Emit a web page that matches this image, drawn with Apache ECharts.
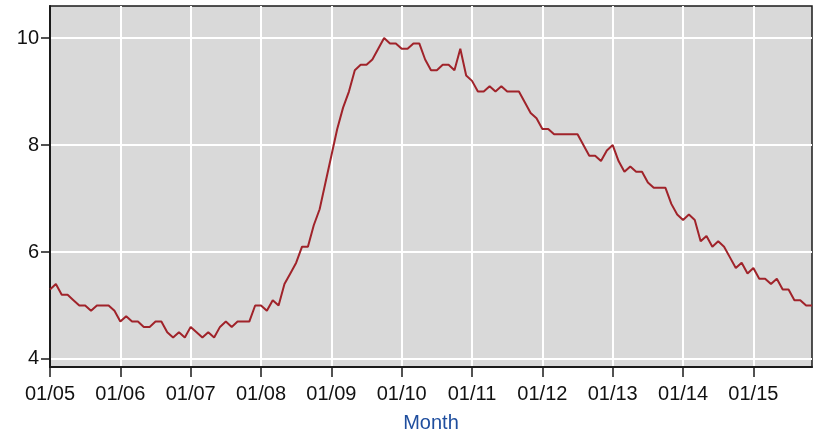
<!DOCTYPE html>
<html>
<head>
<meta charset="utf-8">
<script src="https://cdn.jsdelivr.net/npm/echarts@6/dist/echarts.min.js"></script>
<style>
html, body { margin: 0; padding: 0; background: #fff; }
#chart { width: 825px; height: 431px; }
</style>
</head>
<body>
<div id="chart"></div>
<script>
// monthly unemployment rate
const years = [2005, 2006, 2007, 2008, 2009, 2010, 2011, 2012, 2013, 2014, 2015]
const u2005 = [5.3, 5.4, 5.2, 5.2, 5.1, 5.0, 5.0, 4.9, 5.0, 5.0, 5.0, 4.9]
const u2006 = [4.7, 4.8, 4.7, 4.7, 4.6, 4.6, 4.7, 4.7, 4.5, 4.4, 4.5, 4.4]
const u2007 = [4.6, 4.5, 4.4, 4.5, 4.4, 4.6, 4.7, 4.6, 4.7, 4.7, 4.7, 5.0]
const u2008 = [5.0, 4.9, 5.1, 5.0, 5.4, 5.6, 5.8, 6.1, 6.1, 6.5, 6.8, 7.3]
const u2009 = [7.8, 8.3, 8.7, 9.0, 9.4, 9.5, 9.5, 9.6, 9.8, 10.0, 9.9, 9.9]
const u2010 = [9.8, 9.8, 9.9, 9.9, 9.6, 9.4, 9.4, 9.5, 9.5, 9.4, 9.8, 9.3]
const u2011 = [9.2, 9.0, 9.0, 9.1, 9.0, 9.1, 9.0, 9.0, 9.0, 8.8, 8.6, 8.5]
const u2012 = [8.3, 8.3, 8.2, 8.2, 8.2, 8.2, 8.2, 8.0, 7.8, 7.8, 7.7, 7.9]
const u2013 = [8.0, 7.7, 7.5, 7.6, 7.5, 7.5, 7.3, 7.2, 7.2, 7.2, 6.9, 6.7]
const u2014 = [6.6, 6.7, 6.6, 6.2, 6.3, 6.1, 6.2, 6.1, 5.9, 5.7, 5.8, 5.6]
const u2015 = [5.7, 5.5, 5.5, 5.4, 5.5, 5.3, 5.3, 5.1, 5.1, 5.0, 5.0]
const yTicks = [4, 6, 8, 10]

const rates = [].concat(u2005, u2006, u2007, u2008, u2009, u2010, u2011, u2012, u2013, u2014, u2015)

// month labels like 01/05
let months = []
for (let i = 0; i < rates.length; i++) {
	const y = years[Math.floor(i / 12)] % 100
	const m = (i % 12) + 1
	months.push((m < 10 ? '0' : '') + m + '/' + (y < 10 ? '0' : '') + y)
}

const isJan = (index) => index % 12 === 0
const font = "'Liberation Sans', Arial, sans-serif"

const myChart = echarts.init(document.getElementById('chart'))
const option = {
	animation: false,
	grid: {
		left: 50,
		right: 13,
		top: 6,
		bottom: 64,
		containLabel: false,
		outerBoundsMode: 'none',
		show: true,
		backgroundColor: '#d9d9d9',
		borderColor: '#1a1a1a',
		borderWidth: 1.5
	},
	xAxis: {
		type: 'category',
		data: months,
		boundaryGap: false,
		name: 'Month',
		nameLocation: 'middle',
		nameGap: 46,
		nameTextStyle: {
			color: '#1f4e9e',
			fontSize: 20,
			fontFamily: font
		},
		axisLine: {
			lineStyle: { color: '#1a1a1a', width: 2 }
		},
		axisTick: {
			interval: isJan,
			length: 10,
			lineStyle: { color: '#1a1a1a', width: 1.5 }
		},
		axisLabel: {
			interval: isJan,
			margin: 17,
			color: '#111',
			fontSize: 20,
			fontFamily: font
		},
		splitLine: {
			show: true,
			interval: isJan,
			lineStyle: { color: '#ffffff', width: 2 }
		}
	},
	yAxis: {
		type: 'value',
		min: 3.85,
		max: 10.6,
		axisLine: {
			show: true,
			lineStyle: { color: '#1a1a1a', width: 2 }
		},
		axisTick: {
			show: true,
			customValues: yTicks,
			length: 9,
			lineStyle: { color: '#1a1a1a', width: 1.5 }
		},
		axisLabel: {
			customValues: yTicks,
			margin: 11,
			color: '#111',
			fontSize: 20,
			fontFamily: font
		},
		splitLine: {
			show: true,
			lineStyle: { color: '#ffffff', width: 2 }
		}
	},
	series: [{
		type: 'line',
		data: rates,
		showSymbol: false,
		smooth: false,
		lineStyle: { color: '#a0232a', width: 2 }
	}]
}
myChart.setOption(option)
</script>
</body>
</html>
